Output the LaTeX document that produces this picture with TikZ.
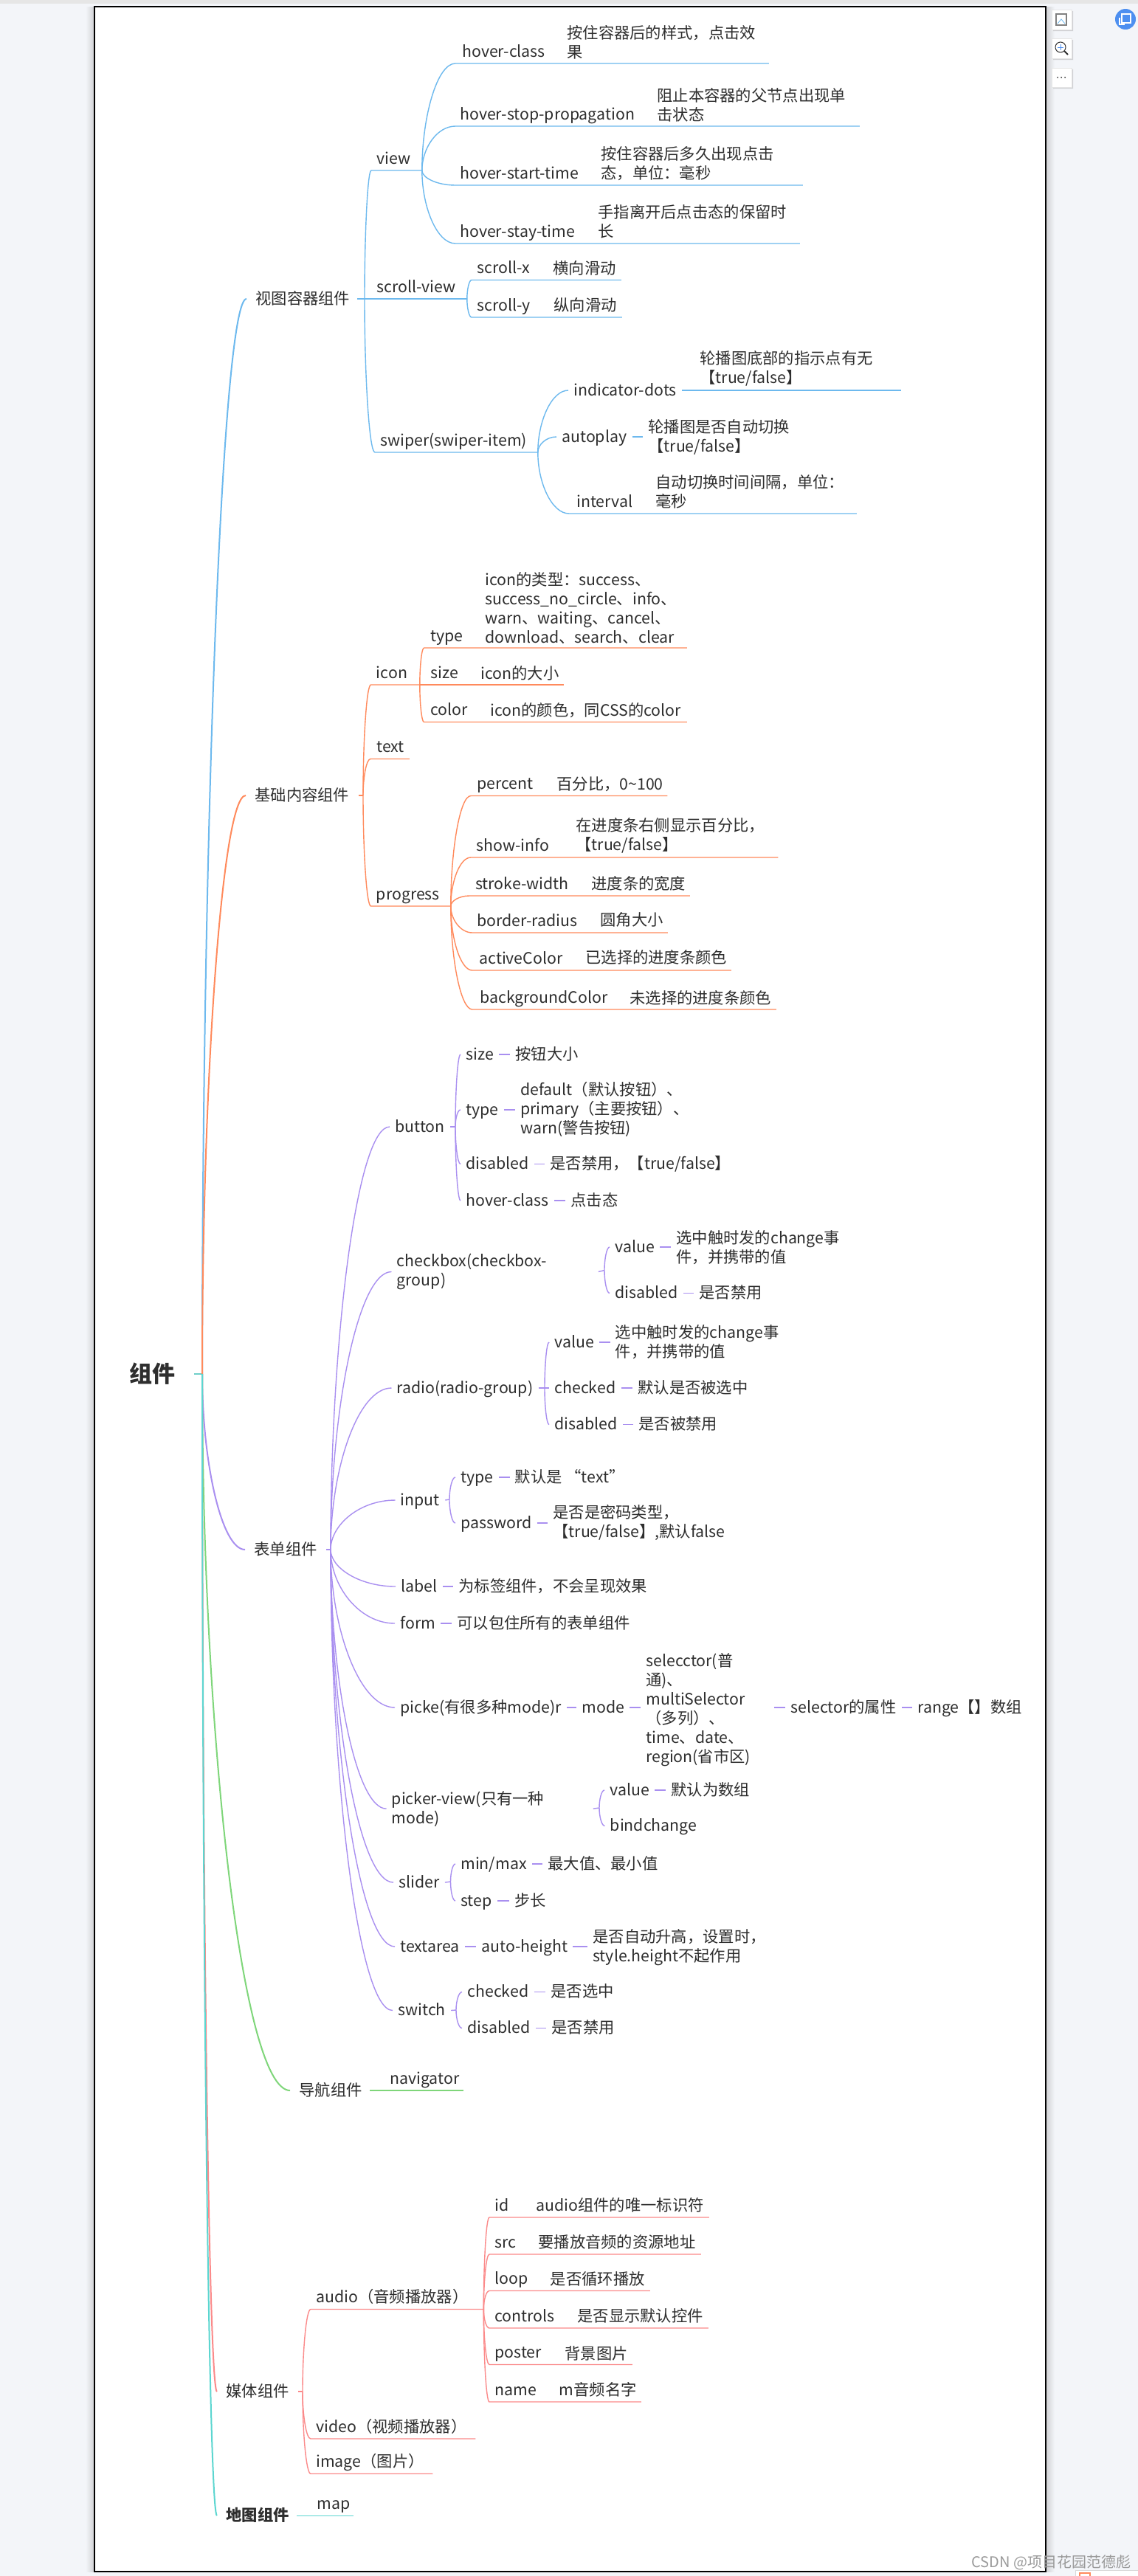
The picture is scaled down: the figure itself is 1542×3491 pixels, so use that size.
\documentclass[tikz,border=0pt]{standalone}
\usepackage{fontspec}
\setmainfont{Noto Sans CJK SC}
\usetikzlibrary{calc}
\definecolor{inkgrey}{HTML}{2E2E2E}
\definecolor{pagegrey}{HTML}{F3F5F9}
\definecolor{topgrey}{HTML}{E6E6E6}
\definecolor{shadegrey}{HTML}{CFD0D3}
\definecolor{rootteal}{HTML}{6FCFC9}
\definecolor{viewblue}{HTML}{6DB9EE}
\definecolor{baseorange}{HTML}{FF8A5C}
\definecolor{formpurple}{HTML}{A98FF0}
\definecolor{navgreen}{HTML}{7FD67A}
\definecolor{mediared}{HTML}{FB8A8A}
\definecolor{mapteal}{HTML}{5CD6D0}
\definecolor{markgrey}{HTML}{9A9A9A}
\definecolor{badgeblue}{HTML}{4D8FF0}
\begin{document}
\begin{tikzpicture}[x=0.5pt,y=-0.5pt]
\tikzset{
    root/.style={
        anchor=center,
        inner xsep=13pt,
        inner ysep=0pt,
        text=inkgrey,
        font=\fontsize{15.5}{18}\selectfont\bfseries
    },
    group/.style={
        anchor=base west,
        inner xsep=6pt,
        inner ysep=0pt,
        xshift=-6pt,
        text height=10pt,
        text depth=3pt,
        text=inkgrey,
        font=\fontsize{10.65}{13}\selectfont
    },
    item/.style={
        anchor=base west,
        inner xsep=3.5pt,
        inner ysep=0pt,
        xshift=-3.5pt,
        text height=10pt,
        text depth=3pt,
        text=inkgrey,
        font=\fontsize{10.65}{13}\selectfont
    },
    note/.style={
        anchor=base west,
        inner xsep=3.5pt,
        inner ysep=0pt,
        xshift=-3.5pt,
        align=left,
        text=inkgrey,
        font=\fontsize{10.65}{13}\selectfont
    },
    wideitem/.style={
        note,
        text width=#1,
    },
    topic/.style={
        anchor=south west,
        inner sep=0pt,
        text width=#1,
        align=left,
        text height=10pt,
        text depth=4.25pt,
        text=inkgrey,
        font=\fontsize{10.65}{13}\selectfont
    },
    branch/.style={
        to path={.. controls ($(\tikztostart |- \tikztotarget)!0.5!(\tikztostart)$)
            and ($(\tikztostart |- \tikztotarget)!0.45!(\tikztotarget)$) .. (\tikztotarget)}
    },
    trunk/.style={draw=#1,line width=1pt},
    twig/.style={draw=#1,line width=0.7pt},
    plainbox/.style={fill=white,draw=black!10,line width=0.5pt},
}
\useasboundingbox (0,0) rectangle (1542,3491);
% window
\fill[pagegrey] (0,0) rectangle (1542,3491);
\fill[topgrey] (0,0) rectangle (1542,5);
\shade[left color=pagegrey,right color=shadegrey] (116,9) rectangle (128,3485);
\shade[left color=shadegrey,right color=pagegrey] (1417,9) rectangle (1429,3485);
\draw[fill=white,line width=1pt] (128,9) rectangle (1417,3485);
% side buttons
\fill[shadegrey] (1427,15) rectangle (1454,42) (1427,54) rectangle (1454,81) (1427,94) rectangle (1454,120);
\draw[plainbox] (1425,13) rectangle (1452,40);
\draw[plainbox] (1425,52) rectangle (1452,79);
\draw[plainbox] (1425,92) rectangle (1452,118);
\draw[gray,line width=0.6pt] (1431,19) rectangle (1445,34);
\draw[viewblue,line width=0.4pt] (1433,32) -- (1438,26) -- (1443,32);
\draw[inkgrey,line width=0.5pt] (1437,64) circle (7);
\draw[inkgrey,line width=1pt] (1442,69) -- (1447,74);
\draw[badgeblue,line width=0.4pt] (1433,64) -- (1441,64) (1437,60) -- (1437,68);
\fill[inkgrey] (1433,105) circle (1) (1438,105) circle (1) (1443,105) circle (1);
\fill[badgeblue] (1525,26) circle (14);
\draw[white,line width=0.6pt] (1520,19) rectangle (1532,31) (1517,24) -- (1517,33) -- (1524,33);
% bottom toolbar
\draw[fill=white,draw=black!15,line width=0.5pt] (1457,3483) rectangle (1560,3500);
\draw[baseorange,line width=0.6pt] (1463,3487) rectangle (1477,3500);
% root
\node[root] (root) at (206,1862) {组件};
\coordinate (roothub) at (274,1862);
\draw[trunk=rootteal] (root.east) -- (roothub);
% groups
\node[group] (viewgroup) at (346,412) {视图容器组件};
\node[group] (basegroup) at (345,1085) {基础内容组件};
\node[group] (formgroup) at (344,2107) {表单组件};
\node[group] (navgroup) at (405,2840) {导航组件};
\node[group] (mediagroup) at (306,3248) {媒体组件};
\node[group,font=\fontsize{10.65}{13}\selectfont\bfseries] (mapgroup) at (306,3416) {地图组件};
\coordinate (viewhub) at (494,405);
\coordinate (basehub) at (492,1078);
\coordinate (formhub) at (448,2100);
\coordinate (mediahub) at (410,3241);
\draw[trunk=viewblue] (roothub) to[branch] (viewgroup.west);
\draw[trunk=baseorange] (roothub) to[branch] (basegroup.west);
\draw[trunk=formpurple] (roothub) to[branch] (formgroup.west);
\draw[trunk=navgreen] (roothub) to[branch] (navgroup.west);
\draw[trunk=mediared] (roothub) to[branch] (mediagroup.west);
\draw[trunk=mapteal] (roothub) to[branch] (mapgroup.west);
\draw[trunk=viewblue] (viewgroup.east) -- (viewhub);
\draw[trunk=baseorange] (basegroup.east) -- (basehub);
\draw[trunk=formpurple] (formgroup.east) -- (formhub);
\draw[trunk=mediared] (mediagroup.east) -- (mediahub);
% view group
\node[topic=34pt] (view) at (503,231) {\hspace*{3.5pt}view};
\node[topic=74pt] (scrollview) at (484,405) {\hspace*{13pt}scroll-view};
\node[topic=110pt] (swiper) at (508,613) {\hspace*{3.5pt}swiper(swiper-item)};
\draw[twig=viewblue] (viewhub) to[branch] (view.south west) -- (view.south east);
\draw[twig=viewblue] (scrollview.south west) -- (scrollview.south east);
\draw[twig=viewblue] (viewhub) to[branch] (swiper.south west) -- (swiper.south east);
\node[topic=212pt] (hoverclass) at (617,86) {\hspace*{4.5pt}hover-class};
\node[note] (hoverclassnote) at (768,78) {按住容器后的样式，点击效\\果};
\node[topic=273.5pt] (hoverstop) at (617,171) {\hspace*{3pt}hover-stop-propagation};
\node[note] (hoverstopnote) at (890,163) {阻止本容器的父节点出现单\\击状态};
\node[topic=235pt] (hoverstart) at (617,251) {\hspace*{3pt}hover-start-time};
\node[note] (hoverstartnote) at (814,242) {按住容器后多久出现点击\\态，单位：毫秒};
\node[topic=233pt] (hoverstay) at (617,330) {\hspace*{3pt}hover-stay-time};
\node[note] (hoverstaynote) at (810,321) {手指离开后点击态的保留时\\长};
\draw[twig=viewblue] (view.south east) to[branch] (hoverclass.south west) -- (hoverclass.south east);
\draw[twig=viewblue] (view.south east) to[branch] (hoverstop.south west) -- (hoverstop.south east);
\draw[twig=viewblue] (view.south east) to[branch] (hoverstart.south west) -- (hoverstart.south east);
\draw[twig=viewblue] (view.south east) to[branch] (hoverstay.south west) -- (hoverstay.south east);
\node[topic=101pt] (scrollx) at (639,379.5) {\hspace*{3.5pt}scroll-x};
\node[note] (scrollxnote) at (749,371) {横向滑动};
\node[topic=101.5pt] (scrolly) at (639,430) {\hspace*{3.5pt}scroll-y};
\node[note] (scrollynote) at (750,421) {纵向滑动};
\draw[twig=viewblue] (scrollview.south east) to[branch] (scrollx.south west) -- (scrollx.south east);
\draw[twig=viewblue] (scrollview.south east) to[branch] (scrolly.south west) -- (scrolly.south east);
\node[item] (indicatordots) at (777,536) {indicator-dots};
\node[note] (indicatordotsnote) at (948,519) {轮播图底部的指示点有无\\【true/false】};
\coordinate (indicatordotsend) at (1221,529);
\node[item] (autoplay) at (761,599) {autoplay};
\node[note] (autoplaynote) at (878,612) {轮播图是否自动切换\\【true/false】};
\node[topic=194.5pt] (interval) at (771,696) {\hspace*{5pt}interval};
\node[note] (intervalnote) at (888,687) {自动切换时间间隔，单位：\\毫秒};
\draw[twig=viewblue] (swiper.south east) to[branch] (indicatordots.west);
\draw[twig=viewblue] (indicatordots.east) -- (indicatordotsend);
\draw[twig=viewblue] (swiper.south east) to[branch] (autoplay.west);
\draw[twig=viewblue] (autoplay.east) -- (autoplay.east -| autoplaynote.west);
\draw[twig=viewblue] (swiper.south east) to[branch] (interval.south west) -- (interval.south east);
% base group
\node[topic=32.75pt] (icon) at (502.5,928) {\hspace*{3.5pt}icon};
\node[topic=26pt] (textitem) at (502,1028.5) {\hspace*{4pt}text};
\node[topic=53.75pt] (progress) at (502.5,1228) {\hspace*{3.5pt}progress};
\draw[twig=baseorange] (basehub) to[branch] (icon.south west) -- (icon.south east);
\draw[twig=baseorange] (basehub) to[branch] (textitem.south west) -- (textitem.south east);
\draw[twig=baseorange] (basehub) to[branch] (progress.south west) -- (progress.south east);
\node[topic=177.75pt] (icontype) at (574.5,878) {\hspace*{4.25pt}type};
\node[note] (icontypenote) at (657,871) {icon的类型：success、\\success\_no\_circle、info、\\warn、waiting、cancel、\\download、search、clear};
\node[topic=97.5pt] (iconsize) at (568,928) {\hspace*{7.5pt}size};
\node[note] (iconsizenote) at (651,920) {icon的大小};
\node[topic=177.75pt] (iconcolor) at (574.5,978.5) {\hspace*{4.25pt}color};
\node[note] (iconcolornote) at (664,970) {icon的颜色，同CSS的color};
\draw[twig=baseorange] (icon.south east) to[branch] (icontype.south west) -- (icontype.south east);
\draw[twig=baseorange] (icon.south east) -- (iconsize.south west) -- (iconsize.south east);
\draw[twig=baseorange] (icon.south east) to[branch] (iconcolor.south west) -- (iconcolor.south east);
\node[topic=132.75pt] (percent) at (638,1078.5) {\hspace*{4pt}percent};
\node[note] (percentnote) at (754,1070) {百分比，0\textasciitilde100};
\node[topic=207.75pt] (showinfo) at (638,1162) {\hspace*{3.5pt}show-info};
\node[note] (showinfonote) at (780,1152) {在进度条右侧显示百分比，\\【true/false】};
\node[topic=149pt] (strokewidth) at (636,1214) {\hspace*{4pt}stroke-width};
\node[note] (strokewidthnote) at (801,1205) {进度条的宽度};
\node[topic=132pt] (borderradius) at (640,1264) {\hspace*{3pt}border-radius};
\node[note] (borderradiusnote) at (813,1254) {圆角大小};
\node[topic=175pt] (activecolor) at (640,1315) {\hspace*{4.5pt}activeColor};
\node[note] (activecolornote) at (793,1305) {已选择的进度条颜色};
\node[topic=205.5pt] (bgcolor) at (640,1368) {\hspace*{5pt}backgroundColor};
\node[note] (bgcolornote) at (853,1360) {未选择的进度条颜色};
\draw[twig=baseorange] (progress.south east) to[branch] (percent.south west) -- (percent.south east);
\draw[twig=baseorange] (progress.south east) to[branch] (showinfo.south west) -- (showinfo.south east);
\draw[twig=baseorange] (progress.south east) to[branch] (strokewidth.south west) -- (strokewidth.south east);
\draw[twig=baseorange] (progress.south east) to[branch] (borderradius.south west) -- (borderradius.south east);
\draw[twig=baseorange] (progress.south east) to[branch] (activecolor.south west) -- (activecolor.south east);
\draw[twig=baseorange] (progress.south east) to[branch] (bgcolor.south west) -- (bgcolor.south east);
% form group
\node[item] (button) at (535,1534) {button};
\coordinate (buttonhub) at (617,1527);
\node[item] (buttonsize) at (631,1436) {size};
\node[note] (buttonsizenote) at (698,1436) {按钮大小};
\node[item] (buttontype) at (631,1511) {type};
\node[note] (buttontypenote) at (705,1536) {default（默认按钮）、\\primary（主要按钮）、\\warn(警告按钮)};
\node[item] (buttondisabled) at (631,1584.5) {disabled};
\node[note] (buttondisablednote) at (745,1584.5) {是否禁用，【true/false】};
\node[item] (buttonhover) at (631,1634) {hover-class};
\node[note] (buttonhovernote) at (773,1634) {点击态};
\draw[twig=formpurple] (formhub) to[branch] (button.west);
\draw[twig=formpurple] (button.east) -- (buttonhub);
\draw[twig=formpurple] (buttonhub) to[branch] (buttonsize.west);
\draw[twig=formpurple] (buttonhub) to[branch] (buttontype.west);
\draw[twig=formpurple] (buttonhub) to[branch] (buttondisabled.west);
\draw[twig=formpurple] (buttonhub) to[branch] (buttonhover.west);
\draw[twig=formpurple] (buttonsize.east) -- (buttonsize.east -| buttonsizenote.west);
\draw[twig=formpurple] (buttontype.east) -- (buttontype.east -| buttontypenote.west);
\draw[twig=formpurple] (buttondisabled.east) -- (buttondisabled.east -| buttondisablednote.west);
\draw[twig=formpurple] (buttonhover.east) -- (buttonhover.east -| buttonhovernote.west);
\node[wideitem=132.75pt] (checkbox) at (537.5,1716.5) {checkbox(checkbox-\\group)};
\coordinate (checkboxhub) at (819,1721.5);
\node[item] (checkboxvalue) at (833,1697) {value};
\node[note] (checkboxvaluenote) at (916,1711) {选中触时发的change事\\件，并携带的值};
\node[item] (checkboxdisabled) at (833,1759.5) {disabled};
\node[note] (checkboxdisablednote) at (947,1759.5) {是否禁用};
\draw[twig=formpurple] (formhub) to[branch] (checkbox.west);
\draw[twig=formpurple] (checkbox.east) -- (checkboxhub);
\draw[twig=formpurple] (checkboxhub) to[branch] (checkboxvalue.west);
\draw[twig=formpurple] (checkboxhub) to[branch] (checkboxdisabled.west);
\draw[twig=formpurple] (checkboxvalue.east) -- (checkboxvalue.east -| checkboxvaluenote.west);
\draw[twig=formpurple] (checkboxdisabled.east) -- (checkboxdisabled.east -| checkboxdisablednote.west);
\node[item] (radio) at (537.5,1888) {radio(radio-group)};
\coordinate (radiohub) at (738,1881);
\node[item] (radiovalue) at (751,1826) {value};
\node[note] (radiovaluenote) at (833.5,1839) {选中触时发的change事\\件，并携带的值};
\node[item] (radiochecked) at (751,1888) {checked};
\node[note] (radiocheckednote) at (864,1888) {默认是否被选中};
\node[item] (radiodisabled) at (751,1937.5) {disabled};
\node[note] (radiodisablednote) at (865,1937.5) {是否被禁用};
\draw[twig=formpurple] (formhub) to[branch] (radio.west);
\draw[twig=formpurple] (radio.east) -- (radiohub);
\draw[twig=formpurple] (radiohub) to[branch] (radiovalue.west);
\draw[twig=formpurple] (radiohub) -- (radiochecked.west);
\draw[twig=formpurple] (radiohub) to[branch] (radiodisabled.west);
\draw[twig=formpurple] (radiovalue.east) -- (radiovalue.east -| radiovaluenote.west);
\draw[twig=formpurple] (radiochecked.east) -- (radiochecked.east -| radiocheckednote.west);
\draw[twig=formpurple] (radiodisabled.east) -- (radiodisabled.east -| radiodisablednote.west);
\node[item] (inputitem) at (542.5,2040) {input};
\coordinate (inputhub) at (609,2032);
\node[item] (inputtype) at (624,2009) {type};
\node[note] (inputtypenote) at (697.5,2009) {默认是 “text”};
\node[item] (inputpassword) at (624,2071) {password};
\node[note] (inputpasswordnote) at (749,2083) {是否是密码类型，\\【true/false】,默认false};
\draw[twig=formpurple] (formhub) to[branch] (inputitem.west);
\draw[twig=formpurple] (inputitem.east) -- (inputhub);
\draw[twig=formpurple] (inputhub) to[branch] (inputtype.west);
\draw[twig=formpurple] (inputhub) to[branch] (inputpassword.west);
\draw[twig=formpurple] (inputtype.east) -- (inputtype.east -| inputtypenote.west);
\draw[twig=formpurple] (inputpassword.east) -- (inputpassword.east -| inputpasswordnote.west);
\node[item] (labelitem) at (543,2157) {label};
\node[note] (labelnote) at (621,2157) {为标签组件，不会呈现效果};
\node[item] (formitem) at (542,2207) {form};
\node[note] (formnote) at (619,2207) {可以包住所有的表单组件};
\draw[twig=formpurple] (formhub) to[branch] (labelitem.west);
\draw[twig=formpurple] (labelitem.east) -- (labelitem.east -| labelnote.west);
\draw[twig=formpurple] (formhub) to[branch] (formitem.west);
\draw[twig=formpurple] (formitem.east) -- (formitem.east -| formnote.west);
\node[item] (picke) at (542,2321) {picke(有很多种mode)r};
\node[item] (pickemode) at (788,2321) {mode};
\node[wideitem=83pt] (pickemodenote) at (875,2258) {selecctor(普\\通)、\\multiSelector\\（多列）、\\time、date、\\region(省市区)};
\node[item] (selectorattr) at (1071,2321) {selector的属性};
\node[item] (rangeitem) at (1243,2321) {range【】数组};
\draw[twig=formpurple] (formhub) to[branch] (picke.west);
\draw[twig=formpurple] (picke.east) -- (pickemode.west);
\draw[twig=formpurple] (pickemode.east) -- (pickemode.east -| pickemodenote.west);
\draw[twig=formpurple] (pickemode.east -| pickemodenote.east) -- (selectorattr.west);
\draw[twig=formpurple] (selectorattr.east) -- (rangeitem.west);
\node[wideitem=132.75pt] (pickerview) at (530.5,2445) {picker-view(只有一种\\mode)};
\coordinate (pickerviewhub) at (812,2450);
\node[item] (pickerviewvalue) at (826,2433) {value};
\node[note] (pickerviewvaluenote) at (909,2433) {默认为数组};
\node[item] (bindchange) at (826.5,2481.5) {bindchange};
\draw[twig=formpurple] (formhub) to[branch] (pickerview.west);
\draw[twig=formpurple] (pickerview.east) -- (pickerviewhub);
\draw[twig=formpurple] (pickerviewhub) to[branch] (pickerviewvalue.west);
\draw[twig=formpurple] (pickerviewhub) to[branch] (bindchange.west);
\draw[twig=formpurple] (pickerviewvalue.east) -- (pickerviewvalue.east -| pickerviewvaluenote.west);
\node[item] (slider) at (540,2558) {slider};
\coordinate (sliderhub) at (610.5,2550);
\node[item] (slidermax) at (624,2533) {min/max};
\node[note] (slidermaxnote) at (742,2533) {最大值、最小值};
\node[item] (sliderstep) at (624,2583) {step};
\node[note] (sliderstepnote) at (697,2583) {步长};
\draw[twig=formpurple] (formhub) to[branch] (slider.west);
\draw[twig=formpurple] (slider.east) -- (sliderhub);
\draw[twig=formpurple] (sliderhub) to[branch] (slidermax.west);
\draw[twig=formpurple] (sliderhub) to[branch] (sliderstep.west);
\draw[twig=formpurple] (slidermax.east) -- (slidermax.east -| slidermaxnote.west);
\draw[twig=formpurple] (sliderstep.east) -- (sliderstep.east -| sliderstepnote.west);
\node[item] (textarea) at (542,2645) {textarea};
\node[item] (autoheight) at (652,2645) {auto-height};
\node[note] (autoheightnote) at (803,2658) {是否自动升高，设置时，\\style.height不起作用};
\draw[twig=formpurple] (formhub) to[branch] (textarea.west);
\draw[twig=formpurple] (textarea.east) -- (autoheight.west);
\draw[twig=formpurple] (autoheight.east) -- (autoheight.east -| autoheightnote.west);
\node[item] (switchitem) at (539,2731.5) {switch};
\coordinate (switchhub) at (618,2724);
\node[item] (switchchecked) at (633,2706.5) {checked};
\node[note] (switchcheckednote) at (746,2706.5) {是否选中};
\node[item] (switchdisabled) at (633,2755.5) {disabled};
\node[note] (switchdisablednote) at (747,2755.5) {是否禁用};
\draw[twig=formpurple] (formhub) to[branch] (switchitem.west);
\draw[twig=formpurple] (switchitem.east) -- (switchhub);
\draw[twig=formpurple] (switchhub) to[branch] (switchchecked.west);
\draw[twig=formpurple] (switchhub) to[branch] (switchdisabled.west);
\draw[twig=formpurple] (switchchecked.east) -- (switchchecked.east -| switchcheckednote.west);
\draw[twig=formpurple] (switchdisabled.east) -- (switchdisabled.east -| switchdisablednote.west);
% navigator and map
\node[topic=63pt] (navigator) at (501,2833) {\hspace*{13.5pt}navigator};
\draw[trunk=navgreen] (navigator.south west) -- (navigator.south east);
\node[topic=38pt] (mapitem) at (402,3409.5) {\hspace*{13.5pt}map};
\draw[twig=mapteal] (mapitem.south west) -- (mapitem.south east);
% media group
\node[topic=116.75pt] (audio) at (421,3129.5) {\hspace*{3.5pt}audio（音频播放器）};
\node[topic=111.25pt] (video) at (421,3305) {\hspace*{3.5pt}video（视频播放器）};
\node[topic=82.25pt] (image) at (421,3352.5) {\hspace*{3.5pt}image（图片）};
\draw[twig=mediared] (mediahub) to[branch] (audio.south west) -- (audio.south east);
\draw[twig=mediared] (mediahub) to[branch] (video.south west) -- (video.south east);
\draw[twig=mediared] (mediahub) to[branch] (image.south west) -- (image.south east);
\node[topic=148.5pt] (audioid) at (663,3005) {\hspace*{3.5pt}id};
\node[note] (audioidnote) at (726,2996) {audio组件的唯一标识符};
\node[topic=143pt] (audiosrc) at (663,3055) {\hspace*{3.5pt}src};
\node[note] (audiosrcnote) at (729,3046) {要播放音频的资源地址};
\node[topic=108.5pt] (audioloop) at (663,3104.5) {\hspace*{3.5pt}loop};
\node[note] (audioloopnote) at (745.5,3096) {是否循环播放};
\node[topic=148pt] (audiocontrols) at (663,3155) {\hspace*{3.5pt}controls};
\node[note] (audiocontrolsnote) at (782,3146) {是否显示默认控件};
\node[topic=96.5pt] (audioposter) at (663,3204.5) {\hspace*{3.5pt}poster};
\node[note] (audioposternote) at (765,3197) {背景图片};
\node[topic=102.5pt] (audioname) at (663,3255) {\hspace*{3.5pt}name};
\node[note] (audionamenote) at (757.5,3246) {m音频名字};
\draw[twig=mediared] (audio.south east) to[branch] (audioid.south west) -- (audioid.south east);
\draw[twig=mediared] (audio.south east) to[branch] (audiosrc.south west) -- (audiosrc.south east);
\draw[twig=mediared] (audio.south east) to[branch] (audioloop.south west) -- (audioloop.south east);
\draw[twig=mediared] (audio.south east) to[branch] (audiocontrols.south west) -- (audiocontrols.south east);
\draw[twig=mediared] (audio.south east) to[branch] (audioposter.south west) -- (audioposter.south east);
\draw[twig=mediared] (audio.south east) to[branch] (audioname.south west) -- (audioname.south east);
% watermark
\node[anchor=base west,inner sep=0pt,text=markgrey,font=\fontsize{10}{12}\selectfont] (watermark) at (1316,3479) {CSDN @项目花园范德彪};
\end{tikzpicture}
\end{document}
